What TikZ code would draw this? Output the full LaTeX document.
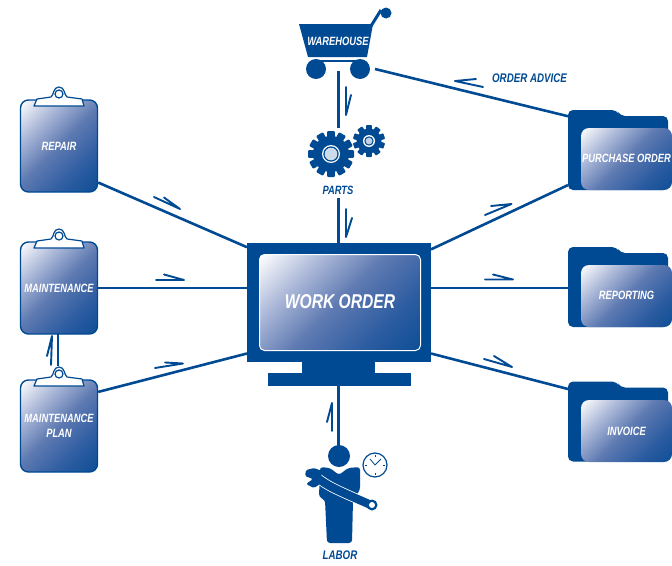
\documentclass[tikz,border=0pt]{standalone}
\usepackage{fontspec}
\newfontfamily\labfont[FakeStretch=0.78]{Liberation Sans}
\definecolor{wb}{HTML}{004A93}
\definecolor{g0}{HTML}{0F4F96}
\definecolor{ga}{HTML}{2A5BA0}
\definecolor{gb}{HTML}{5D79B1}
\definecolor{gc}{HTML}{A9B6D7}
\definecolor{gd}{HTML}{DDE2EF}
\pgfdeclareverticalshading{wbshade}{100bp}{color(0bp)=(g0); color(15bp)=(g0); color(30bp)=(ga); color(50bp)=(gb); color(67bp)=(gc); color(78bp)=(gd); color(85bp)=(white); color(100bp)=(white)}
\tikzset{
 x=1pt,y=-1pt,
 lab/.style={font=\labfont\bfseries\itshape\fontsize{#1}{#1}\selectfont,inner sep=0pt,align=center},
 lab/.default=12,
 board/.style={draw=wb,line width=1.4pt,rounded corners=8pt,shade,shading=wbshade,shading angle=45,minimum width=77pt,minimum height=92pt,inner sep=0pt,text=white,lab=12},
 sheet/.style={rounded corners=8pt,shade,shading=wbshade,shading angle=45,minimum width=91pt,minimum height=62pt,inner sep=0pt,text=white,lab=12},
 ghost/.style={minimum width=104pt,minimum height=80pt,inner sep=0pt,outer sep=0pt},
 conn/.style={draw=wb,line width=2.6pt},
 harp/.style={draw=wb,line width=1.9pt,line join=round,line cap=round},
 clipmark/.pic={
  \draw[wb,line width=1.2pt,fill=white,line join=round]
   (-25,6) -- (-22,-1) -- (-8,-3) .. controls (-5,-5) and (-6,-13) .. (0,-13) .. controls (6,-13) and (5,-5) .. (8,-3) -- (23,-1) -- (25,6) -- cycle;
  \draw[wb,line width=1.2pt,fill=white] (0,-6) circle (4pt);
 },
 folderback/.pic={
  \fill[wb,rounded corners=5pt] (-52,-40) -- (-52,40) -- (48,40) -- (48,-34) -- (0,-34) -- (-3,-40) -- cycle;
 }
}
\begin{document}
\begin{tikzpicture}
\useasboundingbox (0,0) rectangle (672,565);
% clipboards
\node[board] (repair) at (59,146) {REPAIR};
\node[board] (maint) at (59,288) {\raisebox{-1.5pt}{MAINTENANCE}};
\node[board,align=center] (plan) at (59,426) {\raisebox{-1pt}{MAINTENANCE}\\[3pt]\raisebox{-1pt}{PLAN}};
\pic at (59,100) {clipmark};
\pic at (59,242) {clipmark};
\pic at (59,380) {clipmark};
% monitor
\node[fill=wb,minimum width=184pt,minimum height=119pt,inner sep=0pt,outer sep=0pt] (frame) at (339,302.5) {};
\node[fill=wb,minimum width=73pt,minimum height=12pt,inner sep=0pt] (neck) at (338.5,367) {};
\node[fill=wb,minimum width=143pt,minimum height=13pt,inner sep=0pt,outer sep=0pt] (base) at (339.5,379) {};
\node[draw=white,line width=1pt,rounded corners=5pt,shade,shading=wbshade,shading angle=45,minimum width=161pt,minimum height=96pt,inner sep=0pt,text=white,lab=20] (screen) at (340,302.5) {\raisebox{1.5pt}{WORK ORDER}};
% folders
\pic at (620,150) {folderback};
\pic at (620,287) {folderback};
\pic at (620,421.5) {folderback};
\node[ghost] (pofold) at (620,150) {};
\node[ghost] (repfold) at (620,287) {};
\node[ghost] (invfold) at (620,421.5) {};
\node[sheet] (po) at (626.5,159) {\raisebox{1pt}{PURCHASE ORDER}};
\node[sheet] (rep) at (626.5,296) {\raisebox{1pt}{REPORTING}};
\node[sheet] (inv) at (626.5,431) {\raisebox{-1pt}{INVOICE}};
% cart
\fill[wb] (299,24) -- (373,24) -- (367,57) -- (308,57) -- cycle;
\draw[wb,line width=3pt] (371,26) -- (381,10);
\fill[wb] (386,13) circle (5.5pt);
\fill[wb] (315,60) rectangle (361,62);
\node[circle,fill=wb,minimum size=20pt,inner sep=0pt] (wheell) at (316,69) {};
\node[circle,fill=wb,minimum size=20pt,inner sep=0pt] (wheelr) at (360,69) {};
\node[lab=12,text=white] (warehouse) at (338,41) {WAREHOUSE};
% gears
\fill[wb] (331,154) circle (18pt);
\foreach \a in {0,30,...,330}
  \fill[wb,rotate around={\a:(331,154)},rounded corners=1pt] (327.5,154) -- (327,131) -- (335,131) -- (334.5,154) -- cycle;
\fill[white] (331,154) circle (9pt);
\fill[wb] (331,154) circle (7.7pt);
\fill[white!80!wb] (331,154) circle (6.3pt);
\fill[wb] (369,141) circle (12.5pt);
\foreach \a in {0,36,...,324}
  \fill[wb,rotate around={\a:(369,141)},rounded corners=.8pt] (366.5,141) -- (366,125) -- (372,125) -- (371.5,141) -- cycle;
\fill[white] (369,141) circle (6pt);
\fill[wb] (369,141) circle (4.7pt);
\fill[white!75!wb] (369,141) circle (3.4pt);
\node[lab=12,text=wb] (parts) at (338,190.5) {PARTS};
% labor
\node[circle,fill=wb,minimum size=22pt,inner sep=0pt] (head) at (339,456) {};
\fill[wb,rounded corners=3pt] (320,467) -- (330,468) -- (339,475) -- (348,468) -- (360,467) -- (360,490) -- (353,500) -- (352,543) -- (327,543) -- (325,500) -- (319,497) -- cycle;
\draw[white,line width=10pt] (316,477) .. controls (330,487) .. (371,505);
\draw[wb,line width=8.4pt] (316,477) .. controls (330,487) .. (371,505);
\fill[wb,rounded corners=1.5pt] (306,470) -- (314,468) -- (322,471) -- (320,484) -- (314,488) -- (306,484) -- (313,479) -- (305,476) -- cycle;
\fill[wb] (372,505) circle (5.5pt);
\fill[white] (372,505) circle (3pt);
\node[circle,draw=wb,line width=1.2pt,fill=white,minimum size=24pt,inner sep=0pt] (clock) at (375,465) {};
\draw[wb,line width=.8pt] (375,465) -- (370,459) (375,465) -- (381,459);
\draw[wb,line width=.8pt] (375,455) -- (375,457) (375,473) -- (375,475) (365,465) -- (367,465) (383,465) -- (385,465);
\node[lab=12.5,text=wb] (labor) at (340,555.5) {LABOR};
\node[lab=12.5,text=wb] (oadvice) at (529.5,78) {ORDER ADVICE};
% named free ends
\coordinate (cartout) at (375,69);
\coordinate (cartdown) at (338.5,71);
\coordinate (gearin) at (338.5,128);
\coordinate (partsout) at (338.5,198);
\coordinate (frametop) at (338.5,243);
\coordinate (basedown) at (338.5,386);
\coordinate (headtop) at (338.5,446);
\coordinate (planup) at (58,366);
\coordinate (maintdown) at (58,334);
% connectors
\draw[conn] (repair.-43) -- (frame.149);
\draw[conn] (maint.east) -- (frame.west |- maint.east);
\draw[conn] (plan.41) -- (frame.209.7);
\draw[conn] (planup) -- (maintdown);
\draw[conn] (cartdown) -- (gearin);
\draw[conn] (partsout) -- (frametop);
\draw[conn] (headtop) -- (basedown);
\draw[conn] (cartout) -- (pofold.147.6);
\draw[conn] (frame.30.2) -- (pofold.214.7);
\draw[conn] (frame.east |- maint.east) -- (repfold.west |- maint.east);
\draw[conn] (frame.-29.2) -- (invfold.148.4);
% harpoons
\draw[harp] (154,197) -- (180,209) -- (164,197.5);
\draw[harp] (156,280) -- (184,280) -- (164,274.5);
\draw[harp] (155,368) -- (183,363.5) -- (165,362.5);
\draw[harp] (51,365) -- (52,336) -- (47,356);
\draw[harp] (346,87) -- (346,115) -- (351,95);
\draw[harp] (346,209) -- (346,237) -- (352,218);
\draw[harp] (332,431) -- (332,403) -- (327,422);
\draw[harp] (485,215) -- (511.5,204) -- (491,206);
\draw[harp] (485,279.5) -- (513,279.5) -- (493,274.5);
\draw[harp] (484,359) -- (512,367) -- (494,356);
\draw[harp] (483,87) -- (455,81) -- (476,79);
\end{tikzpicture}
\end{document}
